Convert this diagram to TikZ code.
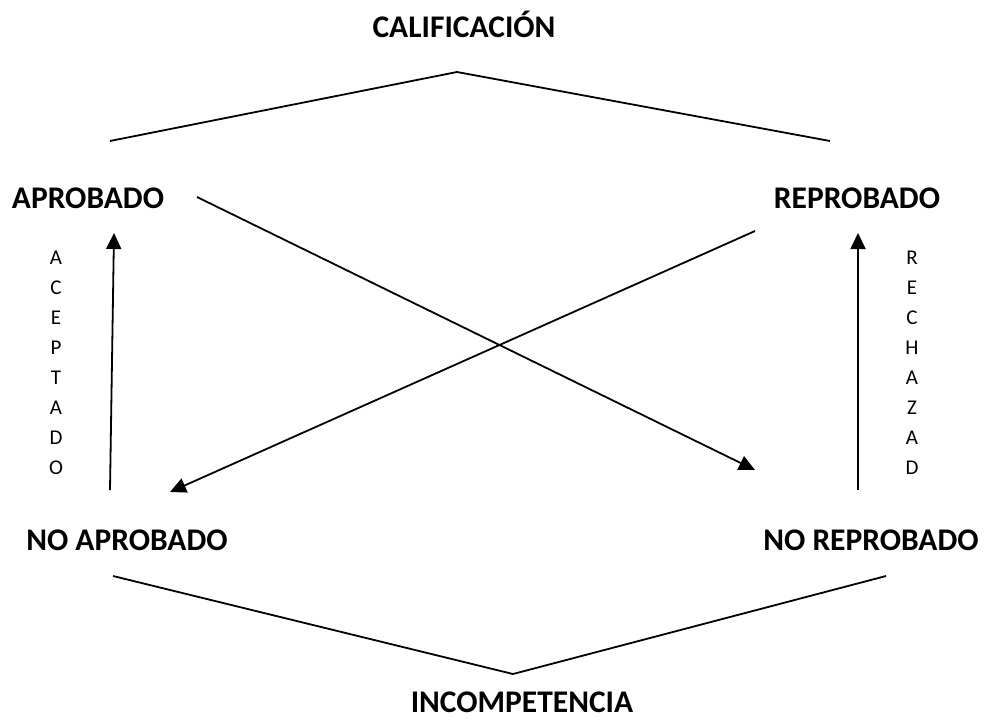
\documentclass[tikz,border=0pt]{standalone}
\usepackage{fontspec}
\setmainfont{Carlito}
\usetikzlibrary{arrows.meta}

\begin{document}
\begin{tikzpicture}[x=1pt,y=-1pt,
	titulo/.style={anchor=base,inner sep=1pt,font=\fontsize{31.5}{36}\selectfont\bfseries},
	letras/.style={align=center,font=\fontsize{21}{30}\selectfont},
	linea/.style={line width=1.8pt},
	flecha/.style={line width=1.8pt,-{Triangle[width=15pt,length=16pt]}}]

	\useasboundingbox (0,0) rectangle (985,721);

	\node[titulo] (cal)   at (464, 37)  {CALIFICACIÓN};
	\node[titulo] (apr)   at (88, 208)  {APROBADO};
	\node[titulo] (rep)   at (857, 208) {REPROBADO};
	\node[titulo] (noapr) at (127, 550) {NO APROBADO};
	\node[titulo] (norep) at (871, 550) {NO REPROBADO};
	\node[titulo] (inc)   at (522, 712) {INCOMPETENCIA};

	\node[letras] (acep) at (56, 363)  {A\\C\\E\\P\\T\\A\\D\\O};
	\node[letras] (rech) at (912, 363) {R\\E\\C\\H\\A\\Z\\A\\D};

	\coordinate (cal-l) at (110, 141);
	\coordinate (cal-c) at (457, 72);
	\coordinate (cal-r) at (830, 141);
	\coordinate (inc-l) at (113, 576);
	\coordinate (inc-c) at (513, 674);
	\coordinate (inc-r) at (886, 576);

	\coordinate (apr-s)   at (114, 233);
	\coordinate (noapr-n) at (110, 490);
	\coordinate (rep-s)   at (858, 233);
	\coordinate (norep-n) at (858, 490);
	\coordinate (apr-e)   at (197, 197);
	\coordinate (norep-w) at (755, 470);
	\coordinate (rep-w)   at (755, 231);
	\coordinate (noapr-e) at (170, 492);

	\draw[linea] (cal-l) -- (cal-c) -- (cal-r);
	\draw[linea] (inc-l) -- (inc-c) -- (inc-r);

	\draw[flecha] (noapr-n) -- (apr-s);
	\draw[flecha] (norep-n) -- (rep-s);
	\draw[flecha] (apr-e) -- (norep-w);
	\draw[flecha] (rep-w) -- (noapr-e);

\end{tikzpicture}
\end{document}
